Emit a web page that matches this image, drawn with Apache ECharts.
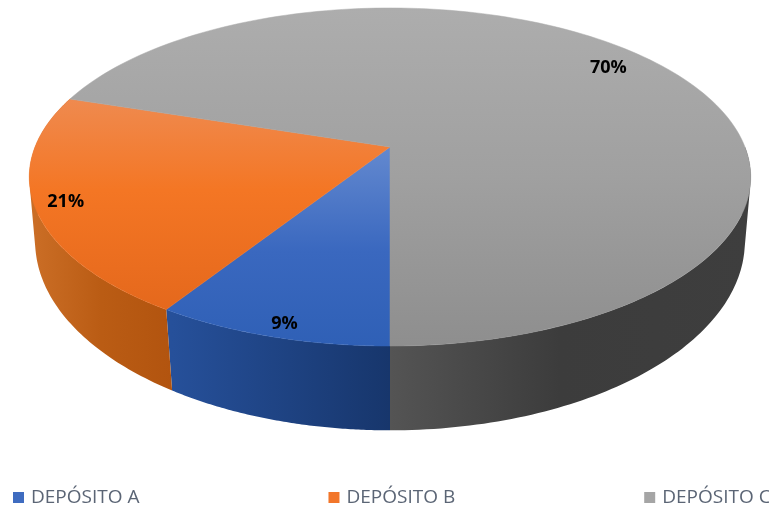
<!DOCTYPE html>
<html><head><meta charset="utf-8">
<style>html,body{margin:0;padding:0;background:#fff;overflow:hidden}#c{width:769px;height:511px}</style>
<script src="https://cdn.jsdelivr.net/npm/echarts@6/dist/echarts.min.js"></script>
</head><body><div id="c"></div>
<script>
const categories = ['DEPÓSITO A', 'DEPÓSITO B', 'DEPÓSITO C'];
const shares = [9, 21, 70];

// perspective model of the disc: top and bottom rims
const TOP = {cx: 390, cy: 147, a: 355, b: 163.7, p: 0.1775};
const BOT = {cx: 390, cy: 210, a: 350, b: 184, p: 0.165};
const project = (m, th, r) => {
  const c = Math.cos(th) * r, s = 1 / (1 - m.p * c);
  return [m.cx - m.a * Math.sin(th) * r * s, m.cy + m.b * c * s];
};
const topStops = [
  [[0, '#9fb8e6'], [0.42, '#6288cf'], [0.72, '#3a68bf'], [1, '#2f60b6']],
  [[0, '#f2a57e'], [0.27, '#ef8a4f'], [0.54, '#f47624'], [1, '#e0641a']],
  [[0, '#adadad'], [0.5, '#a0a0a0'], [1, '#8e8e8e']]
];
// side wall colours along screen x (start x, end x, colour stops)
const sideGrad = [
  [172, 390, [[0, '#26509a'], [1, '#17366c']]],
  [31, 172, [[0, '#cb6e26'], [0.5, '#ba5c14'], [1, '#b2540f']]],
  [390, 751, [[0, '#545454'], [0.47, '#3c3c3c'], [1, '#3e3e3e']]]
];
const legendColors = ['#3f6cc0', '#f2762a', '#a5a5a5'];
const labelPlace = [[0.93, 4, 3], [0.92, 1, 1], [0.83, -1, -6]];
const total = shares.reduce((a, b) => a + b, 0);
const startOf = i => shares.slice(0, i).reduce((a, b) => a + b, 0) / total * Math.PI * 2;

function quadPath(pts) {
  let area = 0;
  pts.forEach((p, k) => { const q = pts[(k + 1) % 4]; area += p[0] * q[1] - q[0] * p[1]; });
  const seq = area < 0 ? pts.slice().reverse() : pts;
  return 'M' + seq.map(p => p[0].toFixed(2) + ' ' + p[1].toFixed(2)).join('L') + 'Z';
}

function renderSlice(params, api) {
  const i = params.seriesIndex;
  const v = api.value(0);
  const a0 = startOf(i), a1 = a0 + v / total * Math.PI * 2;
  const kids = [];
  const sg = sideGrad[i];
  const sideFill = new echarts.graphic.LinearGradient(sg[0], 0, sg[1], 0,
    sg[2].map(s => ({offset: s[0], color: s[1]})), true);
  // side wall: the swept rim as one path, so no seams appear between strips
  const sideFrom = i === 2 ? Math.max(a0, Math.PI * 1.5) : a0;
  const n = 90;
  let d = '';
  for (let k = 0; k < n; k++) {
    const t0 = sideFrom + (a1 - sideFrom) * k / n, t1 = sideFrom + (a1 - sideFrom) * (k + 1) / n;
    d += quadPath([project(TOP, t0, 1), project(TOP, t1, 1), project(BOT, t1, 1), project(BOT, t0, 1)]);
  }
  kids.push({type: 'path', shape: {pathData: d}, style: {fill: sideFill}});
  // top face
  const face = [[TOP.cx, TOP.cy]];
  const m = 160;
  for (let k = 0; k <= m; k++) face.push(project(TOP, a0 + (a1 - a0) * k / m, 1));
  const grad = new echarts.graphic.LinearGradient(0, 8, 0, 346,
    topStops[i].map(s => ({offset: s[0], color: s[1]})), true);
  kids.push({type: 'polygon', shape: {points: face}, style: {fill: grad, stroke: grad, lineWidth: 0.5}});
  // value label
  const mid = (a0 + a1) / 2, lp = labelPlace[i], q = project(TOP, mid, lp[0]);
  kids.push({type: 'text', x: q[0] + lp[1], y: q[1] + lp[2], style: {
    text: v + '%', fill: '#000', font: 'bold 18px "Open Sans"', align: 'center', verticalAlign: 'middle'}});
  return {type: 'group', children: kids};
}

const chart = echarts.init(document.getElementById('c'), null, {renderer: 'canvas'});
chart.setOption({
  animation: false,
  backgroundColor: '#fff',
  legend: {
    data: categories, left: 13, top: 488, padding: 0, width: 1200, itemGap: 189,
    itemWidth: 11, itemHeight: 11, itemStyle: {borderWidth: 0},
    icon: 'rect', selectedMode: false,
    textStyle: {color: '#5b6575', fontSize: 19, fontFamily: 'Open Sans', padding: [0, 0, 0, 2]}
  },
  series: categories.map((name, i) => ({
    type: 'custom', name, coordinateSystem: 'none',
    itemStyle: {color: legendColors[i]},
    renderItem: renderSlice, data: [[shares[i]]], silent: true
  }))
});
</script></body></html>
